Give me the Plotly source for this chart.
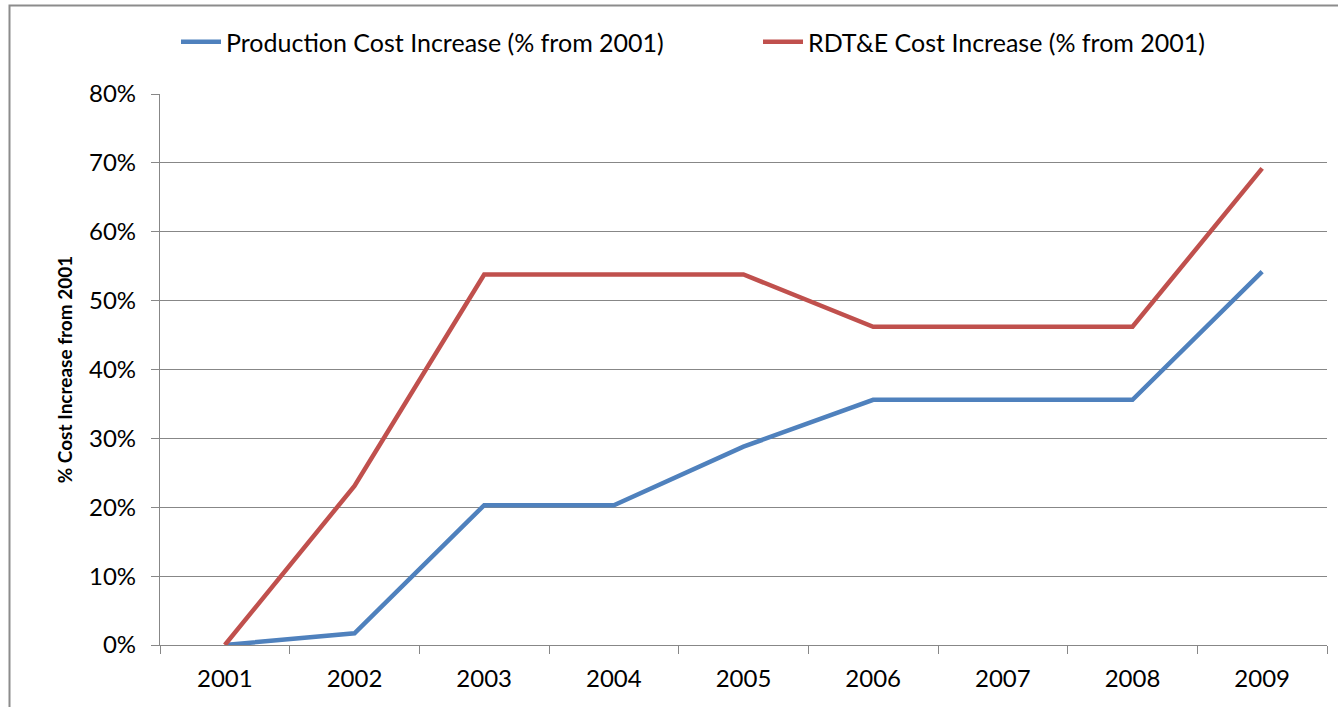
import plotly.graph_objects as go

years = ["2001", "2002", "2003", "2004", "2005", "2006", "2007", "2008", "2009"]
production = [0.0, 0.017, 0.203, 0.203, 0.288, 0.356, 0.356, 0.356, 0.542]
rdte = [0.0, 0.231, 0.538, 0.538, 0.538, 0.462, 0.462, 0.462, 0.692]
series_names = ["Production Cost Increase (% from 2001)", "RDT&E Cost Increase (% from 2001)"]
colors = ["#4F81BD", "#C0504D"]
legend_ids = ["legend", "legend2"]

FONT = "Lato, 'Open Sans', sans-serif"
GRID = "#878787"

fig = go.Figure()
for name, vals, c, lg in zip(series_names, [production, rdte], colors, legend_ids):
    fig.add_trace(go.Scatter(x=years, y=vals, mode="lines", name=name, legend=lg,
                             line=dict(color=c, width=4.5)))

W, H = 1338, 707
L, R, T, B = 160, 11, 94, 62
pw = W - L - R
ph = H - T - B

def legend_at(px_left):
    return dict(orientation="h", x=(px_left - L) / pw, xanchor="left", y=1 + (T - 42) / ph,
                yanchor="middle", font=dict(size=25), itemwidth=40, bgcolor="rgba(0,0,0,0)")

fig.update_layout(
    width=W, height=H,
    margin=dict(l=L, r=R, t=T, b=B, autoexpand=False),
    paper_bgcolor="white", plot_bgcolor="white",
    font=dict(family=FONT, size=24, color="black"),
    showlegend=True,
    legend=legend_at(176),
    legend2=legend_at(758),
    xaxis=dict(type="category", range=[-0.5, len(years) - 0.5], automargin=False,
               showgrid=False, showline=True, linecolor=GRID, linewidth=1.3,
               ticks="outside", tickson="boundaries", ticklen=8, tickcolor=GRID, tickwidth=1.3,
               tickfont=dict(size=24), ticklabelstandoff=12, fixedrange=True),
    yaxis=dict(range=[0, 0.8], dtick=0.1, tickformat=".0%", showgrid=True, gridcolor=GRID, gridwidth=1.3,
               automargin=False,
               showline=True, linecolor=GRID, linewidth=1.3, ticks="outside", ticklen=8,
               tickcolor=GRID, tickwidth=1.3, tickfont=dict(size=24), ticklabelstandoff=10,
               zeroline=False,
               title=dict(text="<b>% Cost Increase from 2001</b>", font=dict(size=19), standoff=11)),
)

# outer chart border
fig.add_shape(type="rect", xref="paper", yref="paper",
              x0=(9.5 - L) / pw, x1=(W + 20 - L) / pw,
              y0=-(H + 20 - T - ph) / ph, y1=1 + (T - 5.5) / ph,
              line=dict(color="#8C8C8C", width=2), fillcolor="rgba(0,0,0,0)", layer="below")

fig.write_html("out.html")
